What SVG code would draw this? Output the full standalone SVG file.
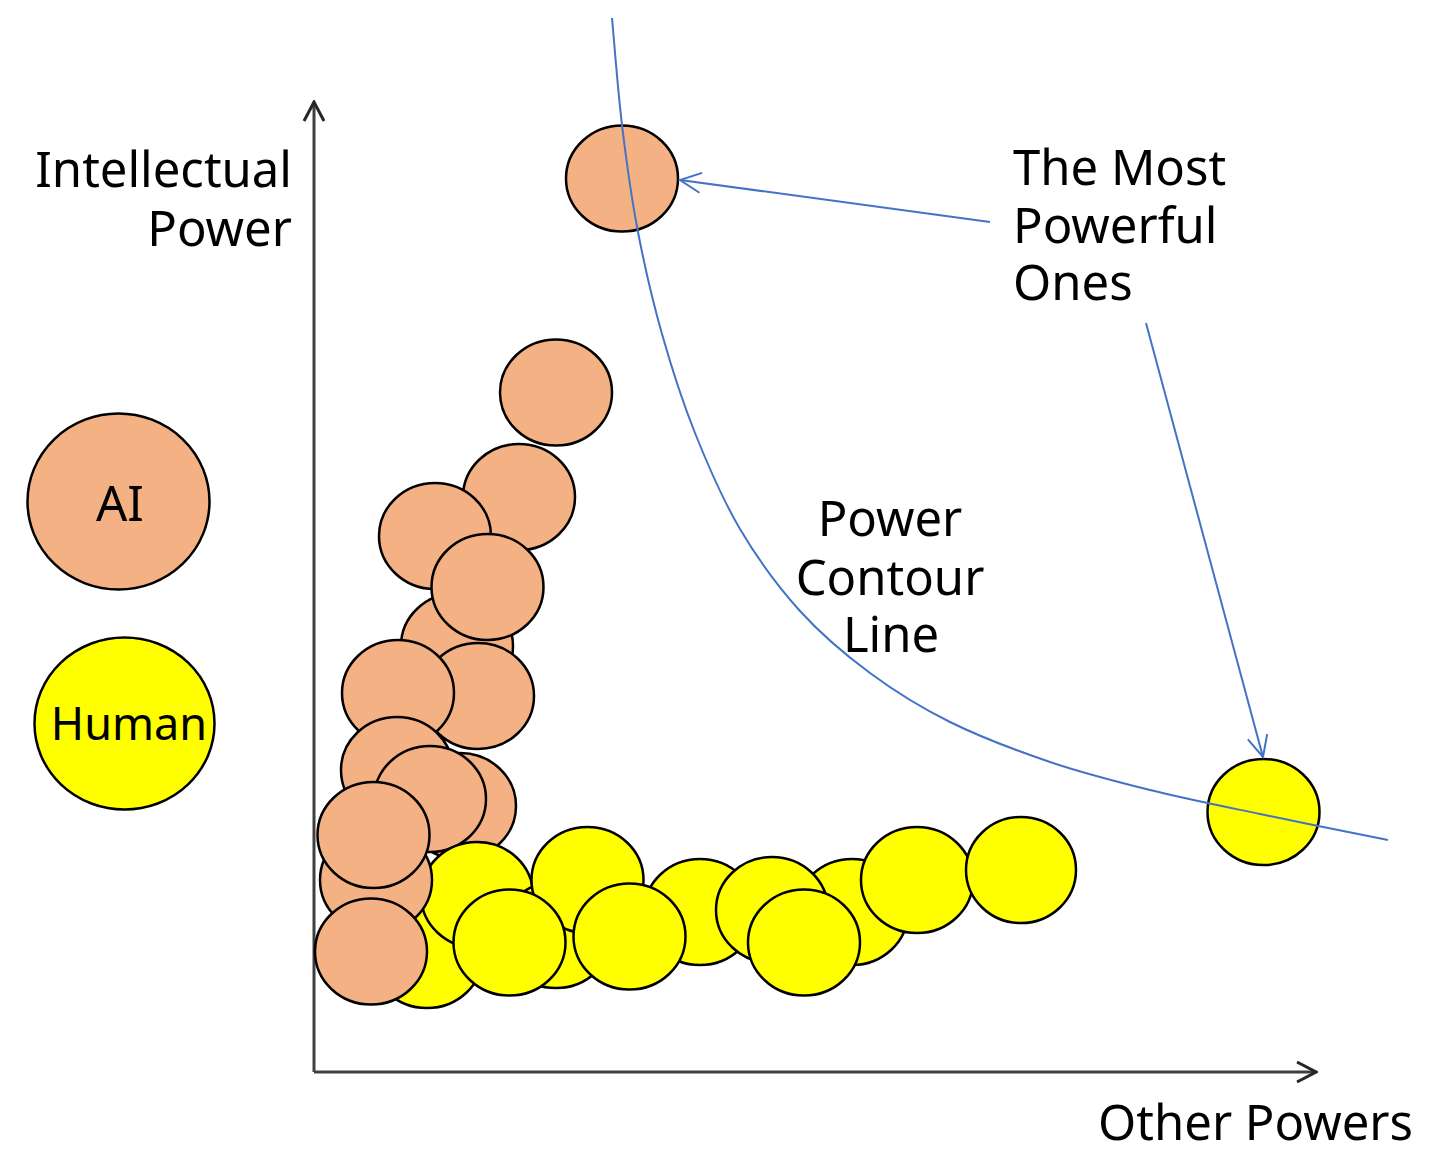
<svg xmlns="http://www.w3.org/2000/svg" width="1441" height="1171" viewBox="0 0 1441 1171">
<style>
.ai{fill:#F4B183;stroke:#000;stroke-width:2.5}
.hu{fill:#FFFF00;stroke:#000;stroke-width:2.5}
.t{font-family:"Noto Sans","Open Sans","Liberation Sans",sans-serif;font-size:49px;fill:#000}
.blue{fill:none;stroke:#4472C4;stroke-width:2}
.axis{fill:none;stroke:#404040;stroke-width:3}
</style>
<defs>
<marker id="blueArrow" markerUnits="userSpaceOnUse" viewBox="-24 -12 26 24" refX="0" refY="0" markerWidth="26" markerHeight="24" orient="auto">
<path d="M-21,-10 L0,0 L-21,10" fill="none" stroke="#4472C4" stroke-width="2"/>
</marker>
<marker id="axisArrow" markerUnits="userSpaceOnUse" viewBox="-24 -13 26 26" refX="0" refY="0" markerWidth="26" markerHeight="26" orient="auto">
<path d="M-19,-10 L0,0 L-19,10" fill="none" stroke="#262626" stroke-width="3"/>
</marker>
</defs>
<rect width="1441" height="1171" fill="#fff"/>

<g id="axes">
<line class="axis" x1="314" y1="1072" x2="314" y2="102" marker-end="url(#axisArrow)"/>
<line class="axis" x1="314" y1="1072" x2="1316" y2="1072" marker-end="url(#axisArrow)"/>
</g>

<g id="labels">
<text id="y-label" class="t" text-anchor="end"><tspan x="292" y="187">Intellectual</tspan><tspan x="292" y="246">Power</tspan></text>
<text id="most-label" class="t"><tspan x="1013" y="185">The Most</tspan><tspan x="1013" y="243">Powerful</tspan><tspan x="1013" y="300">Ones</tspan></text>
<text id="contour-label" class="t" text-anchor="middle"><tspan x="890" y="536">Power</tspan><tspan x="890" y="595">Contour</tspan><tspan x="891" y="652">Line</tspan></text>
<text id="x-label" class="t" x="1098" y="1140">Other Powers</text>
</g>

<g id="legend-ai">
<ellipse class="ai" cx="118.5" cy="501.5" rx="91" ry="88"/>
<text class="t" x="120" y="521" text-anchor="middle">AI</text>
</g>
<g id="legend-human">
<ellipse class="hu" cx="124.5" cy="723.5" rx="90" ry="86"/>
<text class="t" x="129" y="740" text-anchor="middle" style="font-size:45px">Human</text>
</g>

<g id="ai-points">
<ellipse id="ai-top" class="ai" cx="622" cy="178.5" rx="56" ry="53"/>
<ellipse class="ai" cx="556" cy="392.5" rx="56" ry="53"/>
<ellipse class="ai" cx="519" cy="497" rx="56" ry="53"/>
<ellipse class="ai" cx="435" cy="536" rx="56" ry="53"/>
<ellipse class="ai" cx="457" cy="646" rx="56" ry="53"/>
<ellipse class="ai" cx="487.5" cy="587" rx="56" ry="53"/>
<ellipse class="ai" cx="478" cy="696" rx="56" ry="53"/>
<ellipse class="ai" cx="398" cy="693" rx="56" ry="53"/>
<ellipse class="ai" cx="397" cy="770" rx="56" ry="53"/>
<ellipse class="ai" cx="460" cy="806" rx="56" ry="53"/>
<ellipse class="ai" cx="430" cy="799" rx="56" ry="53"/>
</g>
<g id="human-points-back">
<ellipse class="hu" cx="427" cy="955" rx="56" ry="53"/>
<ellipse class="hu" cx="477" cy="895" rx="56" ry="53"/>
</g>
<g id="ai-points-front">
<ellipse class="ai" cx="376" cy="880" rx="56" ry="53"/>
<ellipse class="ai" cx="373.5" cy="835" rx="56" ry="53"/>
<ellipse class="ai" cx="371" cy="951.5" rx="56" ry="53"/>
</g>
<g id="human-points">
<ellipse class="hu" cx="556" cy="935" rx="56" ry="53"/>
<ellipse class="hu" cx="587.5" cy="880" rx="56" ry="53"/>
<ellipse class="hu" cx="700" cy="912" rx="56" ry="53"/>
<ellipse class="hu" cx="852" cy="912" rx="56" ry="53"/>
<ellipse class="hu" cx="772" cy="910" rx="56" ry="53"/>
<ellipse class="hu" cx="509.5" cy="942.5" rx="56" ry="53"/>
<ellipse class="hu" cx="629.5" cy="936.5" rx="56" ry="53"/>
<ellipse class="hu" cx="804" cy="942.5" rx="56" ry="53"/>
<ellipse class="hu" cx="917" cy="880" rx="56" ry="53"/>
<ellipse class="hu" cx="1021" cy="870" rx="55" ry="53"/>
<ellipse id="human-top" class="hu" cx="1263.5" cy="812" rx="56" ry="53"/>
</g>

<g id="connectors">
<path id="contour" class="blue" d="M612,18 C613.7,35.8 617.7,89.3 622,125 C626.3,160.7 631.3,197.2 638,232 C644.7,266.8 652.5,300.5 662,334 C671.5,367.5 682,400.5 695,433 C708,465.5 722.5,499.3 740,529 C757.5,558.7 778.3,587 800,611 C821.7,635 845,654.5 870,673 C895,691.5 920,707.2 950,722 C980,736.8 1016.7,750.7 1050,762 C1083.3,773.3 1115,781.3 1150,790 C1185,798.7 1220.3,805.7 1260,814 C1299.7,822.3 1366.7,835.7 1388,840"/>
<line class="blue" x1="990" y1="222" x2="680" y2="180" marker-end="url(#blueArrow)"/>
<line class="blue" x1="1146" y1="323" x2="1263" y2="757" marker-end="url(#blueArrow)"/>
</g>
</svg>
